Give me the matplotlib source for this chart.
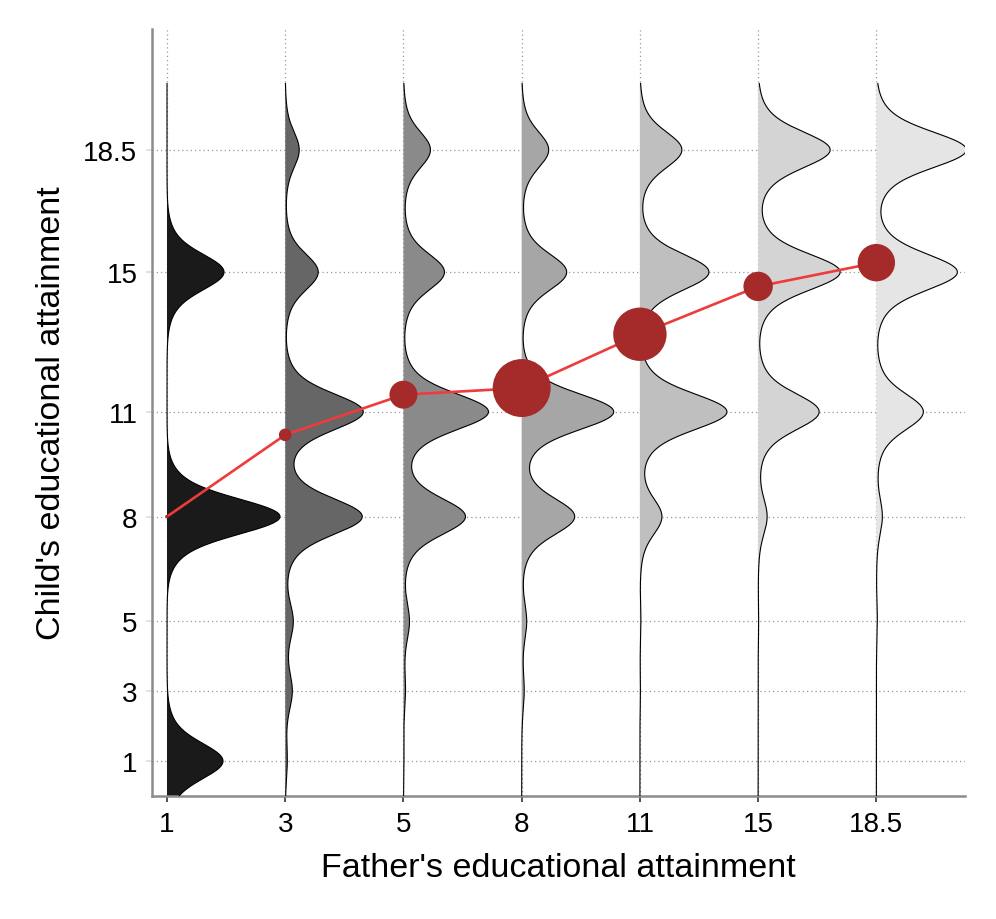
import numpy as np
import matplotlib
matplotlib.use("Agg")
import matplotlib.pyplot as plt

plt.rcParams['font.family'] = ['Liberation Sans', 'DejaVu Sans']

# ---- data ----
father_labels = ["1", "3", "5", "8", "11", "15", "18.5"]
child_levels = [1, 3, 5, 8, 11, 15, 18.5]
# relative density peak heights at each child level (rows: father category)
dens_f1 = [56, 0, 0, 113, 0, 57, 0]
dens_f3 = [2, 7, 8, 77, 78, 33, 14]
dens_f5 = [0.5, 2, 6, 62, 85, 41, 27]
dens_f8 = [0, 2.5, 5, 53, 92, 45, 27]
dens_f11 = [0, 0.5, 1, 22, 87, 69, 42]
dens_f15 = [0, 0, 0.5, 9, 61, 82, 72]
dens_f185 = [0, 0, 1, 6, 47, 81, 90]
densities = [dens_f1, dens_f3, dens_f5, dens_f8, dens_f11, dens_f15, dens_f185]
mean_child = [8.0, 10.34, 11.49, 11.68, 13.22, 14.59, 15.27]
group_n = [3, 40, 196, 841, 713, 216, 350]
fills = ["#1a1a1a", "#666666", "#8a8a8a", "#a6a6a6", "#bfbfbf", "#d4d4d4", "#e5e5e5"]

fig = plt.figure(figsize=(9.96, 9.2), dpi=100)
ax = fig.add_axes([0.1526, 0.1337, 0.9689 - 0.1526, 0.9674 - 0.1337])

xpos = np.arange(len(father_labels))
ax.set_xlim(-0.127, 6.75)
ax.set_ylim(0, 21.96)

grid_kw = dict(color="#9a9a9a", lw=0.9, ls=(0, (1, 2.4)), zorder=0)
for y in child_levels:
    ax.axhline(y, **grid_kw)
for x in xpos:
    ax.axvline(x, **grid_kw)

yy = np.linspace(-0.2, 20.4, 800)
px_per_unit = 118.2

def kern(d):
    return 0.6 * np.exp(-d**2 / (2 * 0.45**2)) + 0.4 * np.exp(-d**2 / (2 * 0.75**2))

for i, dens in enumerate(densities):
    w = np.zeros_like(yy)
    for lvl, h in zip(child_levels, dens):
        w += h * kern(yy - lvl)
    w = w / px_per_unit
    ax.fill_betweenx(yy, xpos[i], xpos[i] + w, facecolor=fills[i], edgecolor="none", zorder=2)
    ax.plot(xpos[i] + w, yy, color="black", lw=0.8, zorder=3)

ax.plot(xpos, mean_child, color="#ee3b3b", lw=1.9, zorder=4)
ax.scatter(xpos, mean_child, s=np.array(group_n) * 2.07, color="#a52a2a", edgecolor="none", zorder=5)

ax.set_xticks(xpos)
ax.set_xticklabels(father_labels)
ax.set_yticks(child_levels)
ax.set_yticklabels(["1", "3", "5", "8", "11", "15", "18.5"])

for s in ["top", "right"]:
    ax.spines[s].set_visible(False)
for s in ["left", "bottom"]:
    ax.spines[s].set_color("#8c8c8c")
    ax.spines[s].set_linewidth(1.8)

ax.tick_params(axis="x", length=4.5, width=1.2, color="#333333", labelsize=20, pad=6)
ax.tick_params(axis="y", length=4.5, width=1.2, color="#dddddd", labelsize=20, pad=6)

ax.set_xlabel("Father's educational attainment", fontsize=24.5, labelpad=11)
ax.set_ylabel("Child's educational attainment", fontsize=24.5, labelpad=12)

fig.savefig("out.png", dpi=100)
